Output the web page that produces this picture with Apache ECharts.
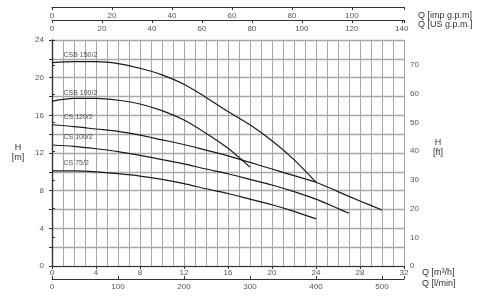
<!DOCTYPE html>
<html><head><meta charset="utf-8">
<script src="https://cdn.jsdelivr.net/npm/echarts@6/dist/echarts.min.js"></script>
<style>html,body{margin:0;padding:0;background:#fff}#c{width:480px;height:303px}</style>
</head><body><div id="c"></div>
<script>
// Curve names
const curveNames = ['CSB 150/2', 'CSB 100/2', 'CS 120/2', 'CS 100/2', 'CS 75/2'];
// Flow (m3/h) and head (m) per curve
const qCSB150 = [0, 2, 4, 6, 8, 10, 12, 14, 16, 18, 20, 22, 24];
const hCSB150 = [21.6, 21.7, 21.7, 21.5, 21.0, 20.3, 19.3, 17.9, 16.4, 15.0, 13.3, 11.3, 8.9];
const qCSB100 = [0, 2, 4, 6, 8, 10, 12, 14, 16, 18];
const hCSB100 = [17.5, 17.8, 17.8, 17.6, 17.2, 16.5, 15.5, 14.1, 12.5, 10.5];
const qCS120 = [0, 2, 4, 6, 8, 10, 12, 14, 16, 18, 20, 22, 24, 26, 28, 30];
const hCS120 = [15.0, 14.8, 14.55, 14.3, 13.9, 13.4, 12.9, 12.3, 11.7, 11.0, 10.3, 9.6, 8.9, 7.9, 6.9, 5.95];
const qCS100 = [0, 2, 4, 6, 8, 10, 12, 14, 16, 18, 20, 22, 24, 26, 27];
const hCS100 = [12.85, 12.7, 12.45, 12.15, 11.75, 11.3, 10.85, 10.3, 9.8, 9.2, 8.6, 7.9, 7.1, 6.1, 5.6];
const qCS75 = [0, 2, 4, 6, 8, 10, 12, 14, 16, 18, 20, 22, 24];
const hCS75 = [10.1, 10.1, 10.0, 9.8, 9.55, 9.2, 8.75, 8.2, 7.7, 7.1, 6.5, 5.8, 5.0];

// Axis ranges / ticks
const qMax = 32;           // m3/h
const hMax = 24;           // m
const lminMax = qMax * 1000 / 60;
const usgpmMax = qMax / 0.227125;
const impgpmMax = qMax / 0.272765;
const ftMax = hMax / 0.3048;

const qs = [qCSB150, qCSB100, qCS120, qCS100, qCS75];
const hs = [hCSB150, hCSB100, hCS120, hCS100, hCS75];

const tickColor = '#555';
const lineColor = '#333';
const font = 'Liberation Sans, Arial, sans-serif';
const mult = (step) => (v) => (Math.abs(v / step - Math.round(v / step)) < 1e-6 ? String(Math.round(v)) : '');

const series = [];
curveNames.forEach((name, i) => {
  series.push({
    name, type: 'line', xAxisIndex: 0, yAxisIndex: 0, smooth: 0.3, showSymbol: false, symbol: 'none',
    lineStyle: {color: '#1a1a1a', width: 1.2},
    silent: true,
    data: qs[i].map((q, j) => [q, hs[i][j]])
  });
  // curve name label, anchored at the curve's first point
  series.push({
    name: name + ' label', type: 'scatter', xAxisIndex: 0, yAxisIndex: 0, symbol: 'circle', symbolSize: 1,
    itemStyle: {color: 'rgba(0,0,0,0)'}, silent: true,
    label: {show: true, formatter: name, position: 'right', distance: 5, offset: [6, -8], fontSize: 7, color: '#222', fontFamily: font},
    data: [[qs[i][0], hs[i][0]]]
  });
});

const chart = echarts.init(document.getElementById('c'), null, {renderer: 'canvas'});
chart.setOption({
  animation: false,
  backgroundColor: '#fff',
  grid: {left: 52, right: 76, top: 40, bottom: 37, containLabel: false, outerBoundsMode: 'none'},
  xAxis: [
    {type: 'value', position: 'bottom', min: 0, max: qMax, interval: 1,
      axisLine: {show: false}, axisTick: {show: false}, axisLabel: {show: false},
      splitLine: {show: true, lineStyle: {color: '#a8a8a8', width: 1}}},
    {type: 'value', position: 'bottom', min: 0, max: qMax, interval: 4,
      axisLine: {show: true, lineStyle: {color: lineColor, width: 1.2}},
      axisTick: {show: true, length: 3, lineStyle: {color: lineColor}},
      axisLabel: {show: true, margin: 3, fontSize: 8, color: tickColor, fontFamily: font, formatter: mult(4)},
      splitLine: {show: false}},
    {type: 'value', position: 'bottom', offset: 13, min: 0, max: lminMax, interval: 100,
      axisLine: {show: true, lineStyle: {color: lineColor, width: 1}},
      axisTick: {show: true, inside: true, length: 3, lineStyle: {color: lineColor}},
      axisLabel: {show: true, margin: 4, fontSize: 8, color: tickColor, fontFamily: font, formatter: mult(100)},
      splitLine: {show: false}},
    {type: 'value', position: 'top', offset: 20, min: 0, max: usgpmMax, interval: 20,
      axisLine: {show: true, lineStyle: {color: lineColor, width: 1}},
      axisTick: {show: true, inside: true, length: 3, lineStyle: {color: lineColor}},
      axisLabel: {show: true, inside: true, margin: 5, fontSize: 8, color: tickColor, fontFamily: font, formatter: mult(20)},
      splitLine: {show: false}},
    {type: 'value', position: 'top', offset: 33, min: 0, max: impgpmMax, interval: 20,
      axisLine: {show: true, lineStyle: {color: lineColor, width: 1}},
      axisTick: {show: true, inside: true, length: 3, lineStyle: {color: lineColor}},
      axisLabel: {show: true, inside: true, margin: 5, fontSize: 8, color: tickColor, fontFamily: font, formatter: mult(20)},
      splitLine: {show: false}}
  ],
  yAxis: [
    {type: 'value', position: 'left', min: 0, max: hMax, interval: 2,
      axisLine: {show: true, lineStyle: {color: lineColor, width: 1.2}},
      axisTick: {show: true, length: 3, lineStyle: {color: lineColor}},
      axisLabel: {show: true, margin: 8, fontSize: 8, color: tickColor, fontFamily: font, formatter: mult(4)},
      splitLine: {show: true, lineStyle: {color: '#a8a8a8', width: 1.3}}},
    {type: 'value', position: 'right', min: 0, max: ftMax, interval: 10,
      axisLine: {show: true, lineStyle: {color: lineColor, width: 1.2}},
      axisTick: {show: true, length: 3, lineStyle: {color: lineColor}},
      axisLabel: {show: true, margin: 6, fontSize: 8, color: tickColor, fontFamily: font, formatter: mult(10)},
      splitLine: {show: false}}
  ],
  graphic: [
    {type: 'text', left: 418, top: 11, style: {text: 'Q [imp g.p.m]', fontSize: 9, fill: '#333', fontFamily: font}},
    {type: 'text', left: 418, top: 20, style: {text: 'Q [US g.p.m.]', fontSize: 9, fill: '#333', fontFamily: font}},
    {type: 'text', left: 422, top: 268, style: {text: 'Q [m³/h]', fontSize: 9, fill: '#333', fontFamily: font}},
    {type: 'text', left: 422, top: 279, style: {text: 'Q [l/min]', fontSize: 9, fill: '#333', fontFamily: font}},
    {type: 'text', x: 18, y: 148, style: {text: 'H', fontSize: 9, fill: '#333', fontFamily: font, align: 'center', verticalAlign: 'middle'}},
    {type: 'text', x: 18, y: 158, style: {text: '[m]', fontSize: 9, fill: '#333', fontFamily: font, align: 'center', verticalAlign: 'middle'}},
    {type: 'text', x: 438, y: 143, style: {text: 'H', fontSize: 9, fill: '#333', fontFamily: font, align: 'center', verticalAlign: 'middle'}},
    {type: 'text', x: 438, y: 153, style: {text: '[ft]', fontSize: 9, fill: '#333', fontFamily: font, align: 'center', verticalAlign: 'middle'}}
  ],
  series
});
</script></body></html>
